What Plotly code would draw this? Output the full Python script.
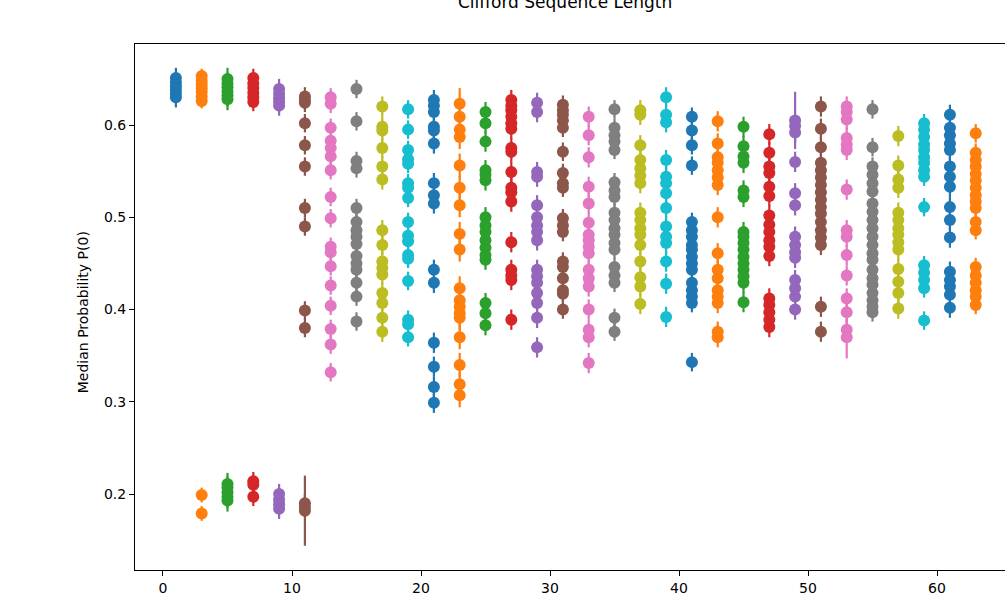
import plotly.graph_objects as go

# Clifford sequence lengths (x) and the median probability P(0) values at each
SEQ_LEN = [1, 3, 5, 7, 9, 11, 13, 15, 17, 19, 21, 23, 25, 27, 29, 31,
           33, 35, 37, 39, 41, 43, 45, 47, 49, 51, 53, 55, 57, 59, 61, 63]

P0_L1 = [0.630, 0.634, 0.638, 0.642, 0.646, 0.651]
P0_L3 = [0.626, 0.631, 0.636, 0.640, 0.644, 0.648, 0.653, 0.199, 0.179]
P0_L5 = [0.628, 0.632, 0.636, 0.641, 0.645, 0.650, 0.193, 0.197, 0.202, 0.207, 0.211]
P0_L7 = [0.625, 0.630, 0.635, 0.640, 0.645, 0.651, 0.214, 0.210, 0.197]
P0_L9 = [0.621, 0.625, 0.629, 0.634, 0.639, 0.184, 0.189, 0.194, 0.200]
P0_L11 = [0.631, 0.627, 0.624, 0.602, 0.578, 0.555, 0.510, 0.490, 0.399, 0.380,
          0.190, 0.186, 0.182]
P0_L13 = [0.630, 0.623, 0.597, 0.583, 0.575, 0.566, 0.551, 0.522, 0.499, 0.468,
          0.462, 0.447, 0.426, 0.404, 0.379, 0.362, 0.332]
P0_L15 = [0.639, 0.604, 0.561, 0.553, 0.510, 0.495, 0.486, 0.479, 0.471, 0.458,
          0.450, 0.443, 0.429, 0.414, 0.387]
P0_L17 = [0.620, 0.598, 0.594, 0.575, 0.555, 0.541, 0.486, 0.470, 0.452, 0.445,
          0.438, 0.418, 0.407, 0.391, 0.376]
P0_L19 = [0.617, 0.595, 0.573, 0.563, 0.558, 0.537, 0.532, 0.521, 0.495, 0.480,
          0.474, 0.459, 0.455, 0.431, 0.389, 0.384, 0.370]
P0_L21 = [0.627, 0.621, 0.614, 0.598, 0.594, 0.580, 0.537, 0.524, 0.515, 0.443,
          0.429, 0.364, 0.338, 0.316, 0.299]
P0_L23 = [0.623, 0.609, 0.595, 0.587, 0.556, 0.532, 0.513, 0.482, 0.465, 0.423,
          0.410, 0.403, 0.396, 0.391, 0.370, 0.340, 0.319, 0.307]
P0_L25 = [0.614, 0.602, 0.582, 0.551, 0.546, 0.540, 0.500, 0.491, 0.484, 0.475,
          0.467, 0.459, 0.454, 0.407, 0.396, 0.383]
P0_L27 = [0.627, 0.621, 0.616, 0.609, 0.602, 0.596, 0.575, 0.571, 0.549, 0.532,
          0.527, 0.517, 0.473, 0.443, 0.437, 0.432, 0.389]
P0_L29 = [0.624, 0.614, 0.549, 0.544, 0.513, 0.500, 0.491, 0.484, 0.475, 0.443,
          0.436, 0.429, 0.418, 0.407, 0.391, 0.359]
P0_L31 = [0.622, 0.616, 0.611, 0.605, 0.597, 0.571, 0.548, 0.537, 0.532, 0.499,
          0.491, 0.484, 0.452, 0.446, 0.434, 0.421, 0.417, 0.400]
P0_L33 = [0.609, 0.589, 0.565, 0.533, 0.515, 0.494, 0.481, 0.475, 0.468, 0.461,
          0.443, 0.434, 0.425, 0.400, 0.378, 0.370, 0.342]
P0_L35 = [0.617, 0.597, 0.589, 0.582, 0.573, 0.538, 0.529, 0.522, 0.505, 0.497,
          0.488, 0.481, 0.472, 0.465, 0.446, 0.437, 0.429, 0.391, 0.376]
P0_L37 = [0.616, 0.611, 0.578, 0.562, 0.553, 0.545, 0.537, 0.505, 0.497, 0.488,
          0.481, 0.470, 0.452, 0.435, 0.425, 0.406]
P0_L39 = [0.630, 0.611, 0.603, 0.562, 0.544, 0.537, 0.526, 0.510, 0.490, 0.479,
          0.472, 0.452, 0.428, 0.392]
P0_L41 = [0.609, 0.594, 0.578, 0.556, 0.495, 0.486, 0.479, 0.470, 0.465, 0.457,
          0.450, 0.443, 0.429, 0.421, 0.414, 0.407, 0.343]
P0_L43 = [0.604, 0.580, 0.565, 0.559, 0.551, 0.543, 0.535, 0.500, 0.461, 0.443,
          0.434, 0.421, 0.414, 0.407, 0.376, 0.370]
P0_L45 = [0.598, 0.577, 0.566, 0.559, 0.529, 0.522, 0.484, 0.479, 0.472, 0.465,
          0.457, 0.450, 0.443, 0.436, 0.429, 0.408]
P0_L47 = [0.590, 0.570, 0.555, 0.548, 0.533, 0.523, 0.502, 0.492, 0.484, 0.475,
          0.468, 0.458, 0.412, 0.405, 0.397, 0.389, 0.381]
P0_L49 = [0.605, 0.599, 0.592, 0.560, 0.526, 0.513, 0.479, 0.470, 0.462, 0.456,
          0.432, 0.423, 0.414, 0.400]
P0_L51 = [0.620, 0.596, 0.576, 0.559, 0.551, 0.543, 0.535, 0.527, 0.519, 0.511,
          0.504, 0.495, 0.486, 0.478, 0.470, 0.403, 0.376]
P0_L53 = [0.620, 0.614, 0.606, 0.586, 0.579, 0.573, 0.530, 0.486, 0.479, 0.459,
          0.437, 0.412, 0.397, 0.378, 0.370]
P0_L55 = [0.617, 0.576, 0.555, 0.546, 0.537, 0.528, 0.515, 0.506, 0.497, 0.488,
          0.479, 0.470, 0.461, 0.454, 0.443, 0.434, 0.427, 0.418, 0.410, 0.403, 0.397]
P0_L57 = [0.588, 0.556, 0.541, 0.532, 0.505, 0.497, 0.488, 0.481, 0.473, 0.465,
          0.444, 0.430, 0.418, 0.401]
P0_L59 = [0.602, 0.595, 0.587, 0.579, 0.573, 0.565, 0.559, 0.551, 0.544, 0.511,
          0.448, 0.440, 0.432, 0.423, 0.388]
P0_L61 = [0.611, 0.597, 0.589, 0.580, 0.573, 0.555, 0.544, 0.533, 0.511, 0.497,
          0.478, 0.441, 0.432, 0.425, 0.416, 0.402]
P0_L63 = [0.591, 0.570, 0.562, 0.555, 0.547, 0.540, 0.532, 0.524, 0.517, 0.510,
          0.495, 0.486, 0.446, 0.437, 0.429, 0.421, 0.414, 0.405]

P0_VALUES = [P0_L1, P0_L3, P0_L5, P0_L7, P0_L9, P0_L11, P0_L13, P0_L15, P0_L17,
             P0_L19, P0_L21, P0_L23, P0_L25, P0_L27, P0_L29, P0_L31, P0_L33,
             P0_L35, P0_L37, P0_L39, P0_L41, P0_L43, P0_L45, P0_L47, P0_L49,
             P0_L51, P0_L53, P0_L55, P0_L57, P0_L59, P0_L61, P0_L63]

# typical error (half-width) per sequence length
P0_ERR = [0.011, 0.008, 0.012, 0.010, 0.011, 0.010, 0.010, 0.010, 0.011, 0.010,
          0.011, 0.013, 0.011, 0.011, 0.011, 0.010, 0.011, 0.010, 0.011, 0.011,
          0.010, 0.011, 0.011, 0.011, 0.011, 0.011, 0.011, 0.010, 0.011, 0.010,
          0.011, 0.010]
# individual wider error bars: (sequence length, point index) -> error
P0_ERR_WIDE = {(11, 12): 0.038, (49, 0): 0.031, (53, 14): 0.023, (23, 0): 0.017}

X_TICKS = [0, 10, 20, 30, 40, 50, 60]
Y_TICKS = [0.2, 0.3, 0.4, 0.5, 0.6]

TAB10 = ["#1f77b4", "#ff7f0e", "#2ca02c", "#d62728", "#9467bd",
         "#8c564b", "#e377c2", "#7f7f7f", "#bcbd22", "#17becf"]

fig = go.Figure()
for i, (L, vals) in enumerate(zip(SEQ_LEN, P0_VALUES)):
    errs = [P0_ERR_WIDE.get((L, j), P0_ERR[i]) for j in range(len(vals))]
    c = TAB10[i % 10]
    fig.add_trace(go.Scatter(
        x=[L] * len(vals), y=vals, mode="markers",
        marker=dict(size=12, color=c, line=dict(width=0)),
        error_y=dict(type="data", array=errs, visible=True, color=c,
                     thickness=2.2, width=0),
        showlegend=False, hoverinfo="x+y",
    ))

axis_font = dict(family="DejaVu Sans", size=14, color="#000000")
fig.update_layout(
    width=1005, height=601,
    margin=dict(l=135, r=0, t=44, b=31),
    paper_bgcolor="white", plot_bgcolor="white",
    font=axis_font,
    xaxis=dict(range=[-2.17, 65.27], tickvals=X_TICKS, ticks="outside",
               ticklen=5, tickwidth=1, tickcolor="black", showgrid=False,
               zeroline=False, showline=True, linecolor="black", linewidth=1,
               mirror=True, tickfont=axis_font),
    yaxis=dict(range=[0.1177, 0.6878], tickvals=Y_TICKS, ticks="outside",
               ticklen=5, tickwidth=1, tickcolor="black", showgrid=False,
               zeroline=False, showline=True, linecolor="black", linewidth=1,
               mirror=False, tickfont=axis_font, tickformat=".1f"),
    annotations=[
        dict(text="Clifford Sequence Length", xref="paper", yref="paper",
             x=0.494, y=1.079, xanchor="center", yanchor="middle",
             showarrow=False, font=dict(family="DejaVu Sans", size=17, color="#000000")),
        dict(text="Median Probability P(0)", xref="paper", yref="paper",
             x=-0.0598, y=0.49, xanchor="center", yanchor="middle",
             textangle=-90, showarrow=False, font=axis_font),
    ],
)

fig.write_html("out.html")
